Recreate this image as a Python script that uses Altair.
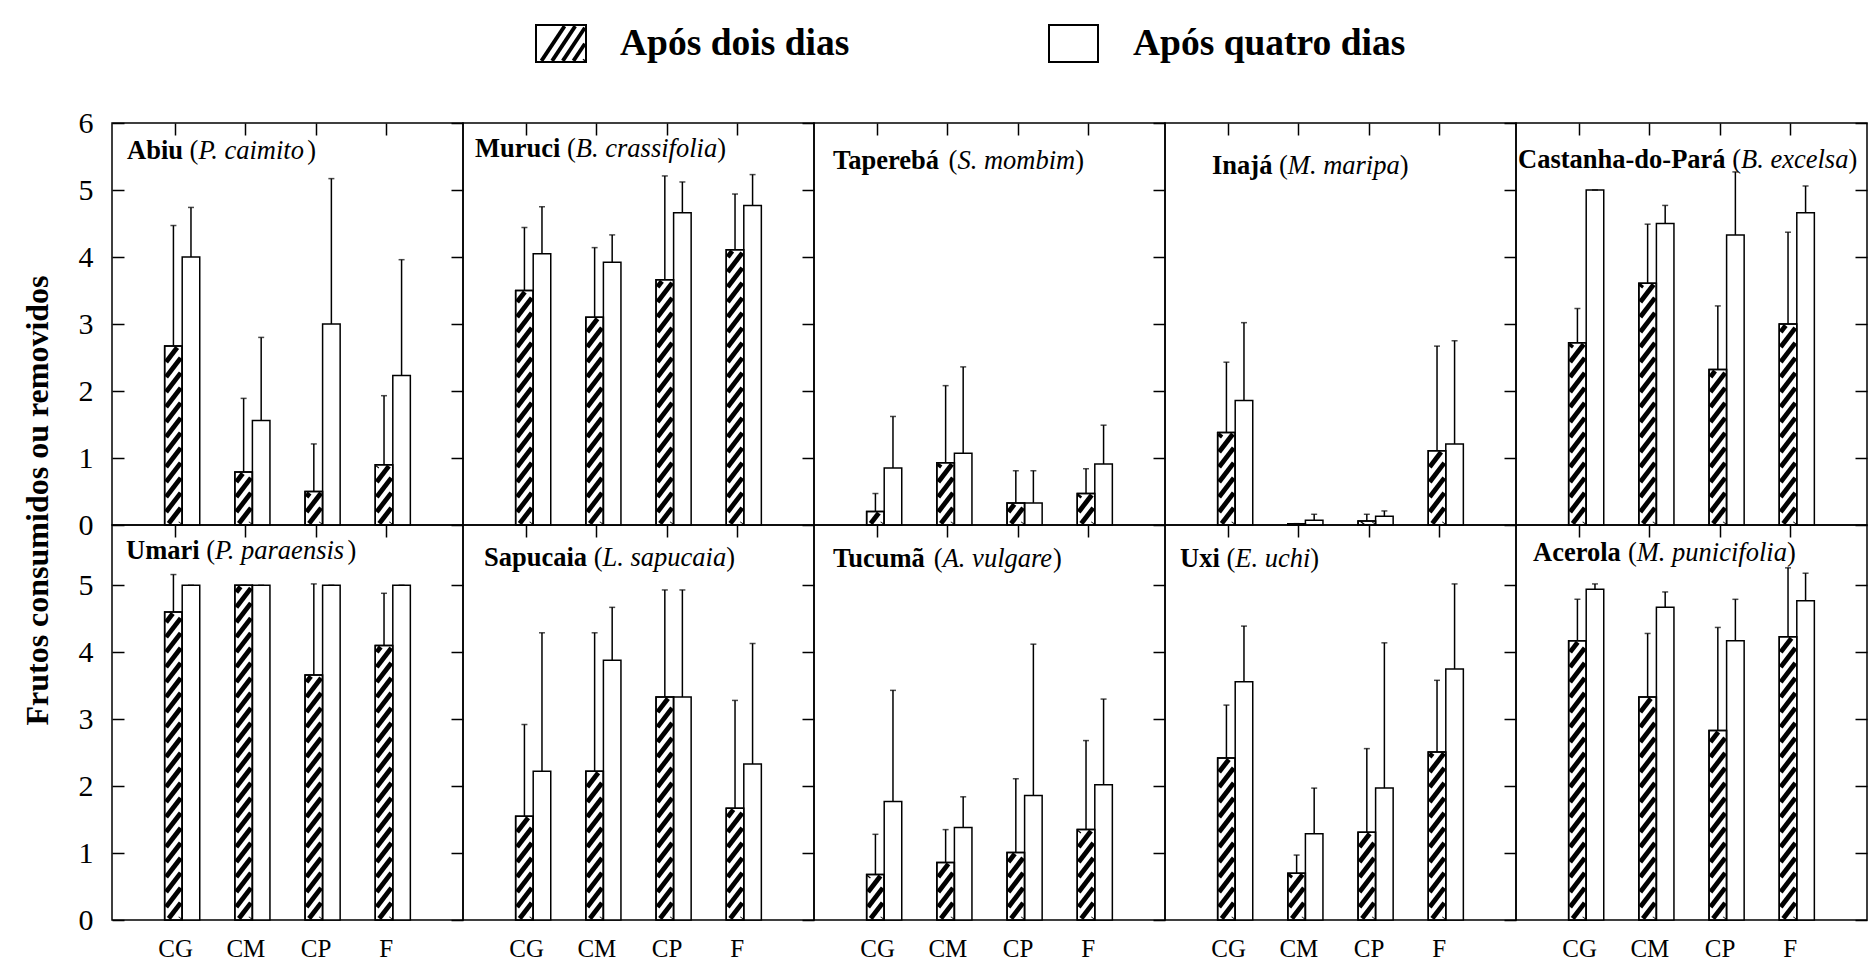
import altair as alt
import pandas as pd

CATEGORIAS = ["CG", "CM", "CP", "F"]
SERIES = ["Após dois dias", "Após quatro dias"]
TITULO_Y = "Frutos consumidos ou removidos"

# Médias e limites superiores das barras de erro (frutos por tratamento)
abiu_dois = [2.67, 0.79, 0.50, 0.90]
abiu_dois_sup = [4.47, 1.89, 1.21, 1.93]
abiu_quatro = [4.00, 1.56, 3.00, 2.23]
abiu_quatro_sup = [4.74, 2.80, 5.17, 3.96]

muruci_dois = [3.50, 3.10, 3.66, 4.11]
muruci_dois_sup = [4.44, 4.14, 5.21, 4.94]
muruci_quatro = [4.05, 3.92, 4.66, 4.77]
muruci_quatro_sup = [4.75, 4.33, 5.12, 5.23]

taperaba_dois = [0.20, 0.93, 0.33, 0.47]
taperaba_dois_sup = [0.47, 2.08, 0.81, 0.84]
taperaba_quatro = [0.85, 1.07, 0.33, 0.91]
taperaba_quatro_sup = [1.62, 2.36, 0.81, 1.49]

inaja_dois = [1.38, 0.02, 0.06, 1.11]
inaja_dois_sup = [2.43, 0.02, 0.16, 2.67]
inaja_quatro = [1.86, 0.07, 0.13, 1.21]
inaja_quatro_sup = [3.02, 0.16, 0.21, 2.75]

castanha_dois = [2.72, 3.61, 2.32, 3.00]
castanha_dois_sup = [3.23, 4.49, 3.27, 4.37]
castanha_quatro = [5.00, 4.50, 4.33, 4.66]
castanha_quatro_sup = [5.00, 4.77, 5.27, 5.06]

umari_dois = [4.60, 5.00, 3.66, 4.10]
umari_dois_sup = [5.16, 5.00, 5.02, 4.88]
umari_quatro = [5.00, 5.00, 5.00, 5.00]
umari_quatro_sup = [5.00, 5.00, 5.00, 5.00]

sapucaia_dois = [1.55, 2.22, 3.33, 1.67]
sapucaia_dois_sup = [2.92, 4.29, 4.93, 3.28]
sapucaia_quatro = [2.22, 3.88, 3.33, 2.33]
sapucaia_quatro_sup = [4.29, 4.67, 4.93, 4.13]

tucuma_dois = [0.68, 0.86, 1.01, 1.35]
tucuma_dois_sup = [1.28, 1.35, 2.11, 2.68]
tucuma_quatro = [1.77, 1.38, 1.86, 2.02]
tucuma_quatro_sup = [3.43, 1.84, 4.12, 3.30]

uxi_dois = [2.42, 0.70, 1.31, 2.51]
uxi_dois_sup = [3.21, 0.97, 2.56, 3.58]
uxi_quatro = [3.56, 1.29, 1.97, 3.75]
uxi_quatro_sup = [4.39, 1.97, 4.14, 5.02]

acerola_dois = [4.17, 3.33, 2.83, 4.23]
acerola_dois_sup = [4.79, 4.28, 4.37, 5.26]
acerola_quatro = [4.94, 4.67, 4.17, 4.77]
acerola_quatro_sup = [5.02, 4.90, 4.79, 5.18]

PAINEIS = [
    ("Abiu", "P. caimito", abiu_dois, abiu_dois_sup, abiu_quatro, abiu_quatro_sup),
    ("Muruci", "B. crassifolia", muruci_dois, muruci_dois_sup, muruci_quatro, muruci_quatro_sup),
    ("Taperebá", "S. mombim", taperaba_dois, taperaba_dois_sup, taperaba_quatro, taperaba_quatro_sup),
    ("Inajá", "M. maripa", inaja_dois, inaja_dois_sup, inaja_quatro, inaja_quatro_sup),
    ("Castanha-do-Pará", "B. excelsa", castanha_dois, castanha_dois_sup, castanha_quatro, castanha_quatro_sup),
    ("Umari", "P. paraensis", umari_dois, umari_dois_sup, umari_quatro, umari_quatro_sup),
    ("Sapucaia", "L. sapucaia", sapucaia_dois, sapucaia_dois_sup, sapucaia_quatro, sapucaia_quatro_sup),
    ("Tucumã", "A. vulgare", tucuma_dois, tucuma_dois_sup, tucuma_quatro, tucuma_quatro_sup),
    ("Uxi", "E. uchi", uxi_dois, uxi_dois_sup, uxi_quatro, uxi_quatro_sup),
    ("Acerola", "M. punicifolia", acerola_dois, acerola_dois_sup, acerola_quatro, acerola_quatro_sup),
]

# Posição (px) do título dentro de cada painel
TITULO_POS = [(15, 28), (12, 26), (19, 38), (47, 43), (2, 37),
              (14, 26), (21, 33), (19, 34), (15, 34), (17, 28)]

# ---- layout ----
FONTE = "Liberation Serif"
LARGURA = 351                 # largura de cada painel
PX_Y = 67.0                   # pixels por fruto no eixo y
X_DOM = (-0.9, 4.1)
PX_X = LARGURA / (X_DOM[1] - X_DOM[0])
LARG_BARRA = 0.25             # largura de cada barra em unidades de categoria
DESLOC = 0.1                  # divisa entre as duas barras, à direita do tick
Y_MAX = [6.0, 5.9]            # topo de cada linha de painéis
TICK = 12
TRACO = 1.5
HACH_PERIODO = 15.0
HACH_ESPESSURA = 4.8
HACH_INCLINACAO = 1.3

# Larguras (1/1000 em) das fontes Times para compor os títulos mistos
NEGRITO = dict(zip("ACIMSTUabcdehijlmnoprstux-Páã ",
                   [722, 722, 389, 944, 556, 667, 722, 500, 556, 444, 556, 444, 556, 278, 333,
                    278, 833, 556, 500, 556, 444, 389, 333, 556, 500, 333, 611, 500, 500, 250]))
ITALICO = dict(zip("PBSMLAE. abcefghilmnoprstuvx",
                   [611, 611, 500, 833, 556, 611, 611, 250, 250, 500, 500, 444, 444, 278, 500,
                    500, 278, 278, 722, 500, 500, 500, 389, 389, 278, 500, 444, 444]))


def largura_texto(s, tabela, tamanho):
    return sum(tabela.get(c, 500) for c in s) * tamanho / 1000.0


def faixas(w, h, periodo=HACH_PERIODO, espessura=HACH_ESPESSURA,
           s=HACH_INCLINACAO, fase=4.0):
    """Segmentos diagonais (/) da hachura dentro de um retângulo w x h (px)."""
    m = espessura * 0.3
    segs = []
    if h <= 2 * m + 1:
        return segs
    kmin = -int(s * w / periodo) - 2
    kmax = int(h / periodo) + 2
    for k in range(kmin, kmax + 1):
        c = k * periodo + fase - s * w
        u0 = max(m, (m - c) / s)
        u1 = min(w - m, (h - m - c) / s)
        if u1 - u0 > 0.5:
            segs.append((k, u0, c + s * u0, u1, c + s * u1))
    return segs


def titulo(nome, especie, px, py, tamanho=26.5):
    partes = []
    x = px
    partes.append((nome, x, "bold", "normal"))
    x += largura_texto(nome, NEGRITO, tamanho) + 0.25 * tamanho
    partes.append(("(", x, "normal", "normal"))
    x += 0.333 * tamanho
    partes.append((especie, x, "normal", "italic"))
    x += largura_texto(especie, ITALICO, tamanho)
    partes.append((")", x, "normal", "normal"))
    camadas = []
    for texto, xx, peso, estilo in partes:
        camadas.append(
            alt.Chart(pd.DataFrame({"t": [texto]}))
            .mark_text(align="left", baseline="middle", font=FONTE, fontSize=tamanho,
                       fontWeight=peso, fontStyle=estilo, color="black")
            .encode(x=alt.value(xx), y=alt.value(py), text="t:N")
        )
    return camadas


def painel(i):
    nome, especie, dois, dois_sup, quatro, quatro_sup = PAINEIS[i]
    linha, coluna = divmod(i, 5)
    ymax = Y_MAX[linha]
    altura = round(ymax * PX_Y)

    registros = []
    for k, cat in enumerate(CATEGORIAS):
        meio = k + DESLOC
        registros.append(dict(cat=cat, serie=SERIES[0], x0=meio - LARG_BARRA, x1=meio,
                              xc=meio - LARG_BARRA / 2, media=dois[k], sup=dois_sup[k], base=0.0))
        registros.append(dict(cat=cat, serie=SERIES[1], x0=meio, x1=meio + LARG_BARRA,
                              xc=meio + LARG_BARRA / 2, media=quatro[k], sup=quatro_sup[k], base=0.0))
    df = pd.DataFrame(registros)
    hachurada = df[df["serie"] == SERIES[0]]

    hach = []
    for _, r in hachurada.iterrows():
        for k, ua, ya, ub, yb in faixas(LARG_BARRA * PX_X, r["media"] * PX_Y):
            hach.append(dict(xa=r["x0"] + ua / PX_X, xb=r["x0"] + ub / PX_X,
                             ya=ya / PX_Y, yb=yb / PX_Y))
    dfh = pd.DataFrame(hach)

    xs = alt.Scale(domain=list(X_DOM), nice=False, zero=False)
    ys = alt.Scale(domain=[0, ymax], nice=False, zero=False)
    valores_y = list(range(0, int(ymax) + 1))

    eixo_topo = alt.Axis(orient="top", offset=-TICK, tickSize=TICK, tickWidth=TRACO,
                         tickColor="black", values=[0, 1, 2, 3], labels=False,
                         domain=False, grid=False, title=None)
    eixo_dir = alt.Axis(orient="right", offset=-TICK, tickSize=TICK, tickWidth=TRACO,
                        tickColor="black", values=valores_y, labels=False,
                        domain=False, grid=False, title=None)
    eixo_esq_ticks = alt.Axis(orient="left", offset=-TICK, tickSize=TICK, tickWidth=TRACO,
                              tickColor="black", values=valores_y, labels=False,
                              domain=False, grid=False, title=None)
    rotulos = "[" + ",".join(f"'{c}'" for c in CATEGORIAS) + "][round(datum.value)]"
    eixo_base = alt.Axis(orient="bottom", ticks=False, domain=False, grid=False,
                         values=list(range(len(CATEGORIAS))),
                         labelExpr=rotulos, labelFont=FONTE,
                         labelFontSize=25, labelColor="black", labelPadding=16,
                         labelFlush=False, title=None)
    if linha == 0:
        eixo_esq = alt.Axis(orient="left", ticks=False, domain=False, grid=False,
                            values=valores_y, labelFont=FONTE, labelFontSize=30,
                            labelColor="black", labelPadding=19, labelFlush=False,
                            labelOverlap=False, title=TITULO_Y, titleFont=FONTE,
                            titleFontSize=32, titleFontWeight="bold", titleColor="black",
                            titleAngle=270, titleAlign="center", titleBaseline="middle",
                            titleX=-75, titleY=377)
    else:
        eixo_esq = alt.Axis(orient="left", ticks=False, domain=False, grid=False,
                            values=valores_y, labelFont=FONTE, labelFontSize=30,
                            labelColor="black", labelPadding=19, labelFlush=False,
                            labelOverlap=False, title=None)

    fundo = alt.Chart(df).mark_rect(fill="white", stroke="black", strokeWidth=TRACO).encode(
        x=alt.X("x0:Q", scale=xs, axis=eixo_topo),
        x2="x1",
        y=alt.Y("media:Q", scale=ys, axis=eixo_dir),
        y2="base",
    )
    listras = alt.Chart(dfh).mark_rule(color="black", strokeWidth=HACH_ESPESSURA,
                                       strokeCap="butt").encode(
        x=alt.X("xa:Q", scale=xs, axis=eixo_base if linha == 1 else None),
        x2="xb",
        y=alt.Y("ya:Q", scale=ys, axis=eixo_esq if coluna == 0 else None),
        y2="yb",
    )
    contorno = alt.Chart(hachurada).mark_rect(fill="transparent", stroke="black",
                                              strokeWidth=TRACO).encode(
        x=alt.X("x0:Q", scale=xs, axis=None),
        x2="x1",
        y=alt.Y("media:Q", scale=ys, axis=eixo_esq_ticks if coluna == 0 else None),
        y2="base",
    )
    erro = alt.Chart(df).mark_rule(color="black", strokeWidth=TRACO).encode(
        x=alt.X("xc:Q", scale=xs, axis=None),
        y=alt.Y("media:Q", scale=ys, axis=None),
        y2="sup",
    )
    cap = alt.Chart(df).mark_tick(color="black", orient="horizontal", size=6,
                                  thickness=TRACO).encode(
        x=alt.X("xc:Q", scale=xs, axis=None),
        y=alt.Y("sup:Q", scale=ys, axis=None),
    )
    px, py = TITULO_POS[i]
    camadas = [fundo, listras, contorno, erro, cap] + titulo(nome, especie, px, py)
    return (
        alt.layer(*camadas)
        .resolve_axis(x="independent", y="independent")
        .properties(width=LARGURA, height=altura,
                    view=alt.ViewBackground(stroke="black", strokeWidth=TRACO))
    )


# ---- legenda ----
LEG_W = 5 * LARGURA
LEG_H = 105
LEG_X0 = [424, 937]
LEG_X1 = [474, 986]
LEG_Y0, LEG_Y1 = 24, 61
LEG_TX = [508, 1021]

dfl = pd.DataFrame({"serie": SERIES, "x0": LEG_X0, "x1": LEG_X1,
                    "y0": [LEG_Y0] * 2, "y1": [LEG_Y1] * 2,
                    "tx": LEG_TX, "ty": [43, 43]})
hl = []
for k, ua, ya, ub, yb in faixas(LEG_X1[0] - LEG_X0[0], LEG_Y1 - LEG_Y0,
                                periodo=16.0, espessura=3.8, s=1.5):
    hl.append(dict(xa=LEG_X0[0] + ua, xb=LEG_X0[0] + ub, ya=LEG_Y1 - ya, yb=LEG_Y1 - yb))
dfhl = pd.DataFrame(hl)

leg_caixa = alt.Chart(dfl).mark_rect(fill="white", stroke="black", strokeWidth=2).encode(
    x=alt.X("x0:Q", scale=None, axis=None), x2="x1",
    y=alt.Y("y0:Q", scale=None, axis=None), y2="y1",
)
leg_listras = alt.Chart(dfhl).mark_rule(color="black", strokeWidth=3.8,
                                        strokeCap="butt").encode(
    x=alt.X("xa:Q", scale=None, axis=None), x2="xb",
    y=alt.Y("ya:Q", scale=None, axis=None), y2="yb",
)
leg_contorno = alt.Chart(dfl.iloc[:1]).mark_rect(fill="transparent", stroke="black",
                                                 strokeWidth=2).encode(
    x=alt.X("x0:Q", scale=None, axis=None), x2="x1",
    y=alt.Y("y0:Q", scale=None, axis=None), y2="y1",
)
leg_texto = alt.Chart(dfl).mark_text(align="left", baseline="middle", font=FONTE,
                                     fontSize=37.5, fontWeight="bold", color="black").encode(
    x=alt.X("tx:Q", scale=None, axis=None),
    y=alt.Y("ty:Q", scale=None, axis=None),
    text="serie:N",
)
legenda = alt.layer(leg_caixa, leg_listras, leg_contorno, leg_texto).properties(
    width=LEG_W, height=LEG_H)

grade = alt.concat(*[painel(i) for i in range(10)], columns=5, spacing=0, bounds="flush")

chart = (
    alt.vconcat(legenda, grade, spacing=0)
    .properties(padding={"left": 20, "top": 0, "right": 0, "bottom": 0}, background="white")
    .configure_view(stroke="transparent")
)

chart.save("out.html", embed_options={"renderer": "svg", "actions": False})
